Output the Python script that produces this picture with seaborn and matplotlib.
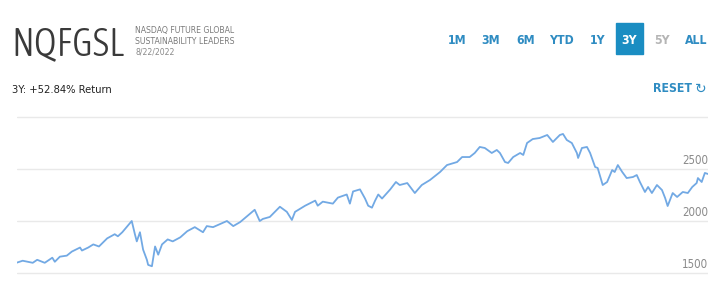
import matplotlib
matplotlib.use("Agg")
import matplotlib.pyplot as plt
import matplotlib.patches as mpatches
import matplotlib.transforms as mtransforms
import seaborn as sns
import pandas as pd
from matplotlib import font_manager
from matplotlib.font_manager import FontProperties

# ---------------- data ----------------
dates = [
    "2019-08-22", "2019-08-31", "2019-09-16", "2019-09-23", "2019-10-05", "2019-10-17",
    "2019-10-21", "2019-10-29", "2019-11-09", "2019-11-17", "2019-11-30", "2019-12-03",
    "2019-12-13", "2019-12-21", "2019-12-30", "2020-01-12", "2020-01-24", "2020-01-29",
    "2020-02-05", "2020-02-20", "2020-02-25", "2020-02-28", "2020-03-04", "2020-03-09",
    "2020-03-15", "2020-03-17", "2020-03-23", "2020-03-28", "2020-04-02", "2020-04-08",
    "2020-04-17", "2020-04-25", "2020-05-07", "2020-05-18", "2020-05-30", "2020-06-12",
    "2020-06-18", "2020-06-28", "2020-07-20", "2020-07-30", "2020-08-10", "2020-08-29",
    "2020-09-02", "2020-09-10", "2020-09-15", "2020-09-26", "2020-10-12", "2020-10-23",
    "2020-10-31", "2020-11-05", "2020-11-21", "2020-12-07", "2020-12-11", "2020-12-19",
    "2021-01-04", "2021-01-12", "2021-01-26", "2021-01-31", "2021-02-05", "2021-02-16",
    "2021-02-24", "2021-03-01", "2021-03-07", "2021-03-12", "2021-03-17", "2021-03-23",
    "2021-04-05", "2021-04-14", "2021-04-20", "2021-05-02", "2021-05-14", "2021-05-25",
    "2021-06-07", "2021-06-23", "2021-07-04", "2021-07-20", "2021-07-28", "2021-08-09",
    "2021-08-17", "2021-08-25", "2021-09-02", "2021-09-13", "2021-09-21", "2021-09-26",
    "2021-10-04", "2021-10-09", "2021-10-17", "2021-10-28", "2021-11-02", "2021-11-08",
    "2021-11-17", "2021-11-28", "2021-12-10", "2021-12-19", "2021-12-30", "2022-01-04",
    "2022-01-10", "2022-01-18", "2022-01-26", "2022-01-28", "2022-02-03", "2022-02-11",
    "2022-02-16", "2022-02-24", "2022-02-28", "2022-03-08", "2022-03-15", "2022-03-23",
    "2022-03-27", "2022-04-01", "2022-04-08", "2022-04-15", "2022-04-25", "2022-05-01",
    "2022-05-06", "2022-05-14", "2022-05-19", "2022-05-25", "2022-06-02", "2022-06-10",
    "2022-06-15", "2022-06-19", "2022-06-27", "2022-07-04", "2022-07-13", "2022-07-21",
    "2022-07-28", "2022-08-04", "2022-08-06", "2022-08-12", "2022-08-17", "2022-08-22",
]
values = [
    1600, 1618, 1598, 1627, 1598, 1647,
    1608, 1657, 1667, 1706, 1745, 1716,
    1745, 1775, 1755, 1833, 1873, 1853,
    1892, 2000, 1873, 1804, 1892, 1725,
    1627, 1578, 1565, 1755, 1676, 1775,
    1823, 1804, 1843, 1902, 1941, 1892,
    1951, 1941, 2000, 1951, 1990, 2088,
    2108, 2000, 2020, 2039, 2137, 2088,
    2010, 2088, 2147, 2196, 2147, 2186,
    2167, 2225, 2255, 2167, 2284, 2304,
    2216, 2147, 2128, 2196, 2255, 2216,
    2304, 2375, 2346, 2365, 2269, 2346,
    2394, 2471, 2538, 2567, 2615, 2615,
    2654, 2712, 2702, 2654, 2683, 2654,
    2567, 2558, 2615, 2654, 2635, 2750,
    2788, 2798, 2827, 2760, 2827, 2837,
    2779, 2750, 2654, 2606, 2702, 2712,
    2654, 2519, 2510, 2346, 2375, 2490,
    2471, 2538, 2471, 2413, 2423, 2442,
    2375, 2279, 2327, 2269, 2346, 2298,
    2221, 2144, 2269, 2231, 2279, 2269,
    2327, 2365, 2413, 2375, 2462, 2452,
]
y_ticks = [1500, 2000, 2500, 3000]
y_labels = ["1500", "2000", "2500", ""]
ranges = ["1M", "3M", "6M", "YTD", "1Y", "3Y", "5Y", "ALL"]
active_range = "3Y"
disabled_range = "5Y"

df = pd.DataFrame({"date": pd.to_datetime(dates), "value": values})

# ---------------- fonts ----------------
sns.set_theme(style="white")
entries = font_manager.fontManager.ttflist
cond = [f for f in entries
        if ("Condensed" in f.name or "Narrow" in f.name or "ondensed" in str(f.stretch))
        and "Italic" not in f.fname and f.style == "normal"]


def wnum(f):
    w = f.weight
    if isinstance(w, str):
        w = font_manager.weight_dict.get(w, 400)
    return w


def pick(target):
    if not cond:
        return None
    best = min(cond, key=lambda f: abs(wnum(f) - target))
    return FontProperties(fname=best.fname)


fp_light = pick(300)
fp_reg = pick(400)
fp_bold = pick(700)
if fp_reg is None:
    fp_light = FontProperties(family="Roboto", weight="light")
    fp_reg = FontProperties(family="Roboto")
    fp_bold = FontProperties(family="Roboto", weight="bold")
plt.rcParams["font.family"] = ["DejaVu Sans"]


def fp(base, size):
    p = base.copy()
    p.set_size(size)
    return p


BLUE_TXT = "#2f8cc2"
BLUE_BOX = "#1a8dc2"
LINE = "#72a9e4"

fig = plt.figure(figsize=(7.2, 2.95), dpi=100)
W, H = 720, 295
ymin, ymax = 1480, 3020
pxu = (273 - 117) / 1500.0
bottom_px = 273 + (1500 - ymin) * pxu
top_px = 117 - (ymax - 3000) * pxu
ax = fig.add_axes([17 / W, 1 - bottom_px / H, (708 - 17) / W, (bottom_px - top_px) / H])

sns.lineplot(data=df, x="date", y="value", ax=ax, color=LINE, linewidth=1.3)
ax.set_xlim(df["date"].min(), df["date"].max())
ax.set_ylim(ymin, ymax)
ax.set_yticks(y_ticks)
ax.set_xticks([])
ax.tick_params(left=False, labelleft=False, bottom=False, labelbottom=False)
ax.grid(axis="y", color="#e9e9e9", linewidth=1.0)
ax.set_axisbelow(True)
for s in ax.spines.values():
    s.set_visible(False)
ax.set_xlabel("")
ax.set_ylabel("")

trans = mtransforms.blended_transform_factory(ax.transAxes, ax.transData)
for t, lab in zip(y_ticks, y_labels):
    if lab:
        ax.text(1.0, t + 18, lab, transform=trans, ha="right", va="bottom",
                fontproperties=fp(fp_reg, 8.3), color="#8a8a8a")

# ---------------- header ----------------
fig.text(11 / W, 1 - 55 / H, "NQFGSL", fontproperties=fp(fp_light, 28), color="#3a3a3a",
         ha="left", va="baseline")
small = 6.2
fig.text(135 / W, 1 - 33 / H, "NASDAQ FUTURE GLOBAL", fontproperties=fp(fp_reg, small),
         color="#7a7a7a", ha="left", va="baseline")
fig.text(135 / W, 1 - 44 / H, "SUSTAINABILITY LEADERS", fontproperties=fp(fp_reg, small),
         color="#7a7a7a", ha="left", va="baseline")
fig.text(135 / W, 1 - 55 / H, "8/22/2022", fontproperties=fp(fp_reg, small),
         color="#8a8a8a", ha="left", va="baseline")
fig.text(12 / W, 1 - 93 / H, "3Y: +52.84% Return", fontproperties=fp(fp_reg, 8),
         color="#222222", ha="left", va="baseline")

centers = [457, 491, 526, 561, 598, 629, 662, 696]
for lab, cx in zip(ranges, centers):
    col = BLUE_TXT
    if lab == active_range:
        fig.patches.append(mpatches.Rectangle((616 / W, 1 - 54 / H), 27 / W, 31 / H,
                                              transform=fig.transFigure, color=BLUE_BOX,
                                              zorder=1))
        col = "white"
    elif lab == disabled_range:
        col = "#b5b5b5"
    fig.text(cx / W, 1 - 40 / H, lab, fontproperties=fp(fp_bold, 8.8),
             color=col, ha="center", va="center", zorder=2)

fig.text(672 / W, 1 - 89 / H, "RESET", fontproperties=fp(fp_bold, 8.8),
         color=BLUE_TXT, ha="center", va="center")
fig.text(701 / W, 1 - 89 / H, "\u21bb", fontsize=10, color=BLUE_TXT,
         ha="center", va="center", family=["DejaVu Sans"])

fig.savefig("out.png", dpi=100)
